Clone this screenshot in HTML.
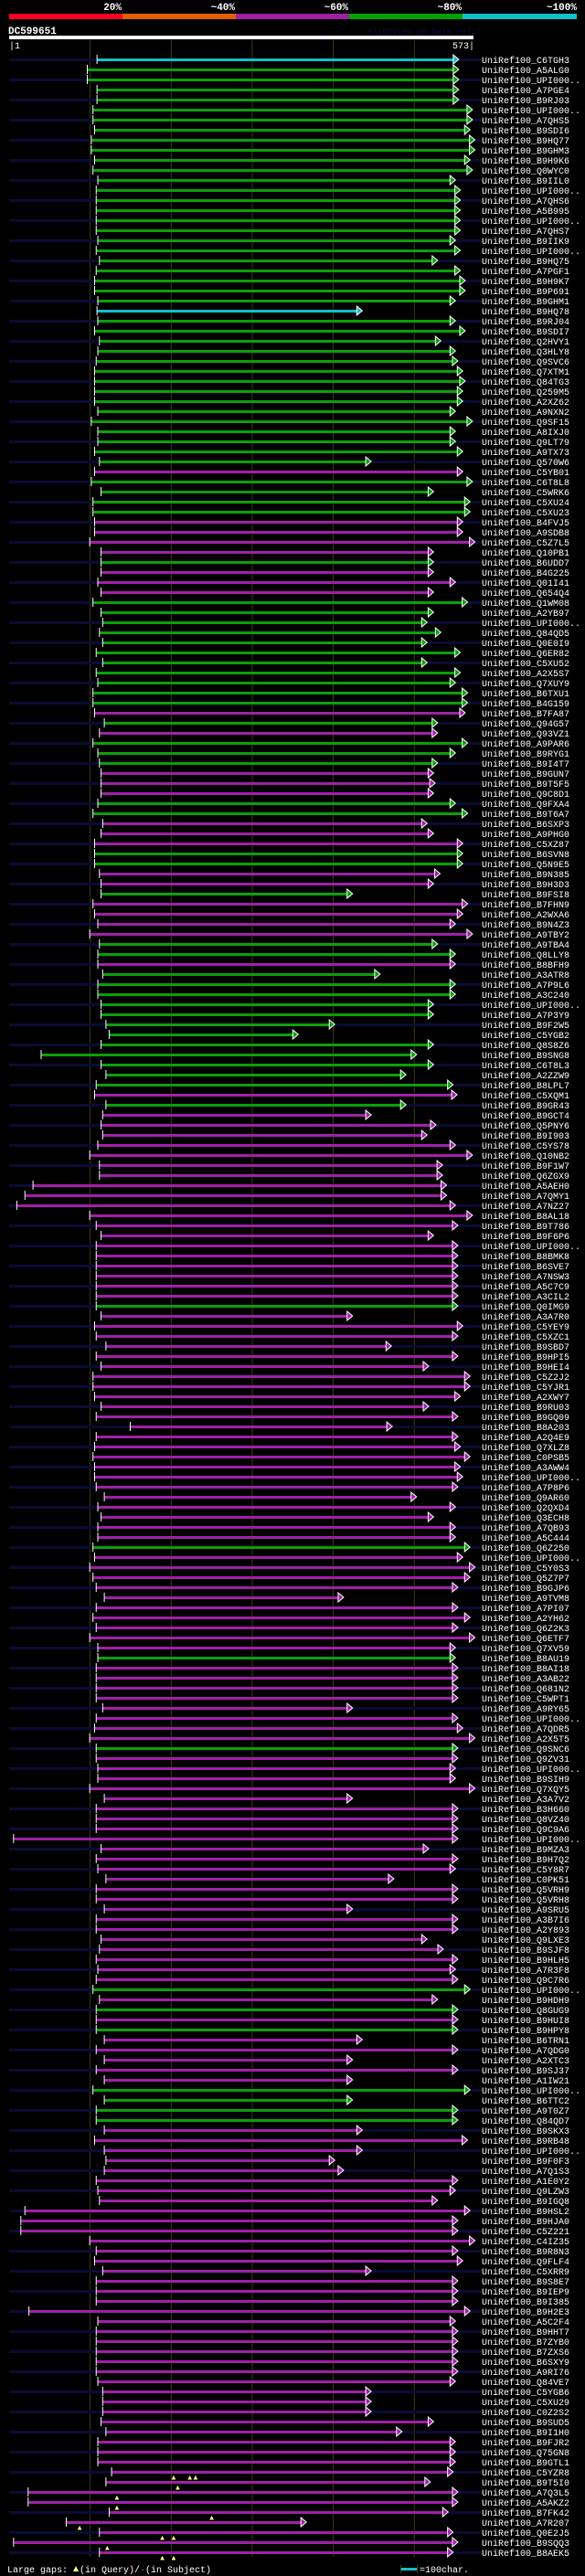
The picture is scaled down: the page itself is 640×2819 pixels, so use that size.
<!DOCTYPE html>
<html><head><meta charset="utf-8">
<style>
html,body{margin:0;padding:0;background:#000;}
svg{display:block;}
text{font-family:"Liberation Mono",monospace;}
</style></head>
<body>
<svg id="chart" width="640" height="2819" viewBox="0 0 640 2819" xmlns="http://www.w3.org/2000/svg">
  <rect x="0" y="0" width="640" height="2819" fill="#000"/>
  <g id="header">
    <rect x="10" y="15" width="124" height="6" fill="#ff0022"/>
    <rect x="134" y="15" width="124" height="6" fill="#e06000"/>
    <rect x="258" y="15" width="124" height="6" fill="#a0209f"/>
    <rect x="382" y="15" width="124" height="6" fill="#00a000"/>
    <rect x="506" y="15" width="125" height="6" fill="#10c0c8"/>
    <text x="133" y="11" fill="#fff" font-size="11" font-weight="bold" text-anchor="end">20%</text>
    <text x="257" y="11" fill="#fff" font-size="11" font-weight="bold" text-anchor="end">~40%</text>
    <text x="381" y="11" fill="#fff" font-size="11" font-weight="bold" text-anchor="end">~60%</text>
    <text x="505" y="11" fill="#fff" font-size="11" font-weight="bold" text-anchor="end">~80%</text>
    <text x="631" y="11" fill="#fff" font-size="11" font-weight="bold" text-anchor="end">~100%</text>
  </g>
  <text x="9" y="37" fill="#fff" font-size="11" font-weight="bold">DC599651</text>
  <text x="402" y="37" fill="#0c0c40" font-size="9">AlignView.pm Beta rel.7</text>
  <rect x="10" y="39" width="508" height="4" fill="#fff"/>
  <text x="10" y="53" fill="#fff" font-size="10">|1</text>
  <text x="519" y="53" fill="#fff" font-size="10" text-anchor="end">573|</text>
  <g id="grid"></g>
  <g id="rows"></g>
  <g id="footer">
    <text x="8" y="2815" fill="#fff" font-size="10">Large gaps:</text>
    <polygon points="80,2814 83,2808 86,2814" fill="#ffff80"/>
    <text x="87" y="2815" fill="#fff" font-size="10">(in Query)/</text>
    <text x="153" y="2815" fill="#10c0c8" font-size="10">-</text>
    <text x="159" y="2815" fill="#fff" font-size="10"> (in Subject)</text>
    <rect x="439" y="2810" width="17" height="3" fill="#10c0c8"/>
    <rect x="438" y="2807" width="1" height="9" fill="#3c3c14"/>
    <rect x="456" y="2807" width="1" height="9" fill="#3c3c14"/>
    <text x="459" y="2815" fill="#fff" font-size="10">=100char.</text>
  </g>
</svg>
<script>
const queryLength = 573;
const gridTicks = [100, 200, 300, 400, 500];
const hitNames = ["C6TGH3","A5ALG0","UPI000..","A7PGE4","B9RJ03","UPI000..","A7QHS5","B9SDI6","B9HQ77","B9GHM3","B9H9K6","Q0WYC0","B9IIL0","UPI000..","A7QHS6","A5B995","UPI000..","A7QHS7","B9IIK9","UPI000..","B9HQ75","A7PGF1","B9H9K7","B9P691","B9GHM1","B9HQ78","B9RJ04",
"B9SDI7","Q2HVY1","Q3HLY8","Q9SVC6","Q7XTM1","Q84TG3","Q259M5","A2XZ62","A9NXN2","Q9SF15","A8IXJ0","Q9LT79","A9TX73","Q570W6","C5YB01","C6T8L8","C5WRK6","C5XU24","C5XU23","B4FVJ5","A9SDB8","C5Z7L5","Q10PB1","B6UDD7","B4G225","Q01I41","Q654Q4",
"Q1WM08","A2YB97","UPI000..","Q84QD5","Q0E0I9","Q6ER82","C5XU52","A2X5S7","Q7XUY9","B6TXU1","B4G159","B7FA87","Q94G57","Q93VZ1","A9PAR6","B9RYG1","B9I4T7","B9GUN7","B9T5F5","Q9C8D1","Q9FXA4","B9T6A7","B6SXP3","A9PHG0","C5XZ87","B6SVN8","Q5N9E5",
"B9N385","B9H3D3","B9FSI8","B7FHN9","A2WXA6","B9N4Z3","A9TBY2","A9TBA4","Q8LLY8","B8BFH9","A3ATR8","A7P9L6","A3C240","UPI000..","A7P3Y9","B9F2W5","C5YGB2","Q8S8Z6","B9SNG8","C6T8L3","A2ZZW9","B8LPL7","C5XQM1","B9GR43","B9GCT4","Q5PNY6","B9I903","C5YS78",
"Q10NB2","B9F1W7","Q6ZGX9","A5AEH0","A7QMY1","A7NZ27","B8AL18","B9T786","B9F6P6","UPI000..","B8BMK8","B6SVE7","A7NSW3","A5C7C9","A3CIL2","Q0IMG9","A3A7R0","C5YEY9","C5XZC1","B9SBD7","B9HPI5","B9HEI4","C5Z2J2","C5YJR1","A2XWY7","B9RU03","B9GQ09",
"B8A203","A2Q4E9","Q7XLZ8","C0PSB5","A3AWW4","UPI000..","A7P8P6","Q9AR60","Q2QXD4","Q3ECH8","A7QB93","A5C444","Q6Z250","UPI000..","C5Y0S3","Q5Z7P7","B9GJP6","A9TVM8","A7PI07","A2YH62","Q6Z2K3","Q6ETF7","Q7XV59","B8AU19","B8AI18","A3AB22","Q681N2",
"C5WPT1","A9RY65","UPI000..","A7QDR5","A2X5T5","Q9SNC6","Q9ZV31","UPI000..","B9SIH9","Q7XQY5","A3A7V2","B3H660","Q8VZ40","Q9C9A6","UPI000..","B9MZA3","B9H7Q2","C5Y8R7","C0PK51","Q5VRH9","Q5VRH8","A9SRU5","A3B7I6","A2Y893","Q9LXE3","B9SJF8","B9HLH5",
"A7R3F8","Q9C7R6","UPI000..","B9HDH9","Q8GUG9","B9HUI8","B9HPY8","B6TRN1","A7QDG0","A2XTC3","B9SJ37","A1IW21","UPI000..","B6TTC2","A9T0Z7","Q84QD7","B9SKX3","B9RB48","UPI000..","B9F0F3","A7Q1S3","A1E0Y2","Q9LZW3","B9IGQ8","B9HSL2","B9HJA0","C5Z221","C4IZ35",
"B9R8N3","Q9FLF4","C5XRR9","B9S8E7","B9IEP9","B9I385","B9H2E3","A5C2F4","B9HHT7","B7ZYB0","B7ZXS6","B6SXY9","A9RI76","Q84VE7","C5YGB6","C5XU29","C0Z2S2","B9SUD5","B9I1H0","B9FJR2","Q75GN8","B9GTL1",
"C5YZR8","B9T5I0","A7Q3L5","A5AKZ2","B7FK42","A7R207","Q0E2J5","B9SQQ3","B8AEK5"];
const identityClass = "cggggggggggggggggggggggggcg"+"ggggggggggggggmggggmmmmgm"+"mmgggggggggggmgmgggmmmggmmm"+"ggmmgmmmmggmggggggggggggmgm"+"mmmmmmmmmmmmmmmmmmgmmmmmm"+"mmmmmmmmmmmmmmmmmgmmmmmmmmm"+"mgmmmmmmmmgmmmmmmmmmmmmmmmm"+"mmmmmmmgmgmgmmmmmggggmmmmmmm"+"mmmmmmmmmmmmmmmmmmmmmmmmmmmmmmm";
const hitEnds = [548,548,548,548,548,565,565,562,568,568,562,565,544,550,550,550,550,550,544,550,522,550,556,556,544,429,544,
556,526,544,547,553,556,553,553,544,565,544,544,553,440,553,565,517,562,562,553,553,568,517,517,517,544,517,
559,517,509,526,509,550,509,550,544,559,559,556,522,522,559,544,522,517,519,517,544,559,509,517,553,553,553,
525,517,417,559,553,544,565,522,544,544,451,544,544,517,517,395,350,517,496,517,483,541,546,483,440,520,509,544,
565,528,528,533,533,544,565,547,517,547,547,547,547,547,547,547,417,553,547,465,547,511,562,562,550,511,547,
466,547,550,562,550,553,547,496,544,517,544,544,562,553,568,562,547,406,547,562,547,568,544,544,547,547,547,
547,417,547,553,568,547,547,544,544,568,417,547,547,547,547,511,547,544,468,547,547,417,547,547,509,529,547,
544,547,562,522,547,547,547,429,547,417,547,417,562,417,547,547,429,559,429,395,406,547,544,522,562,547,547,568,
547,553,440,547,547,547,562,544,547,547,547,547,547,544,440,440,440,517,478,544,544,544,
541,513,547,547,535,360,541,547,541];
const hitStarts = [109,97,97,109,109,104,104,106,102,102,106,104,110,108,108,108,108,108,110,108,112,108,106,106,110,109,110,
106,112,110,108,106,106,106,106,110,102,110,110,106,112,106,102,114,104,104,106,106,100,114,114,114,110,114,
104,114,116,112,116,108,116,108,110,104,104,106,118,112,104,110,112,114,114,114,110,104,116,114,106,106,106,
112,114,114,104,106,110,100,112,110,110,116,110,110,114,114,120,124,114,40,114,120,108,106,120,116,114,116,110,
100,112,112,30,20,10,100,108,114,108,108,108,108,108,108,108,114,106,108,120,108,114,104,104,106,114,108,
150,108,106,104,106,106,108,118,110,114,110,110,104,106,100,104,108,118,108,104,108,100,110,110,108,108,108,
108,116,108,106,100,108,108,110,110,100,118,108,108,108,6,114,108,110,120,108,108,118,108,108,114,112,108,
110,108,104,112,108,108,108,118,108,118,108,118,104,118,108,108,118,106,118,120,118,108,110,112,20,15,15,100,
108,106,116,108,108,108,25,110,108,108,108,108,108,110,116,116,116,114,120,110,110,110,
127,120,24,24,124,71,112,6,112];
const gapRows = [240,240,240,241,242,243,244,245,246,246,247,248,248];
const gapPositions = [203,223,230,208,133,133,250,87,189,203,121,189,203];

const colors = {c:"#10c0c8", g:"#0aa00a", m:"#a020a8"};
const X0 = 10, X1 = 518;
function xScale(res){ return X0 + (res/queryLength)*(X1-X0); }
function yRow(i){ return 65 + 11*i; }
const NS = "http://www.w3.org/2000/svg";
function mk(tag, attrs){ const e=document.createElementNS(NS,tag); for(const k in attrs) e.setAttribute(k, attrs[k]); return e; }

const grid = document.getElementById('grid');
gridTicks.forEach(t=>{
  const l = mk('line',{x1:xScale(t),x2:xScale(t),y1:44,y2:2798,stroke:'#3c3c14','stroke-width':1});
  
  
  grid.appendChild(l);
});

const rows = document.getElementById('rows');
hitNames.forEach((name,i)=>{
  const y = yRow(i);
  const g = mk('g',{});
  
  
  if(i%2===0){
    const s = mk('rect',{x:10,y:y-1,width:517,height:3,fill:'#0b0b36'});
    
    
    g.appendChild(s);
  }
  const col = colors[identityClass[i]] || colors.m;
  const xs = xScale(hitStarts[i]), xe = xScale(hitEnds[i]);
  const bar = mk('rect',{x:xs,y:y-1,width:Math.max(0,xe-xs),height:3,fill:col});
  
  
  g.appendChild(bar);
  const tick = mk('rect',{x:xs-1,y:y-5,width:1,height:10,fill:'#fff'});
  
  
  g.appendChild(tick);
  const arr = mk('polygon',{points:`${xe},${y-5} ${xe+6},${y} ${xe},${y+5}`,fill:col,stroke:'#fff','stroke-width':1});
  
  
  g.appendChild(arr);
  const t = mk('text',{x:527,y:y+4,fill:'#fff','font-size':10});
  t.textContent = 'UniRef100_' + name;
  
  
  g.appendChild(t);
  rows.appendChild(g);
});
gapRows.forEach((r,k)=>{
  const x = xScale(gapPositions[k]), y = yRow(r)+3;
  const m = mk('polygon',{points:`${x-1.5},${y+5} ${x},${y+2} ${x+1.5},${y+5}`,fill:'#ffff80',stroke:'#ffff80','stroke-width':1});
  
  
  rows.appendChild(m);
});
</script>
</body></html>
